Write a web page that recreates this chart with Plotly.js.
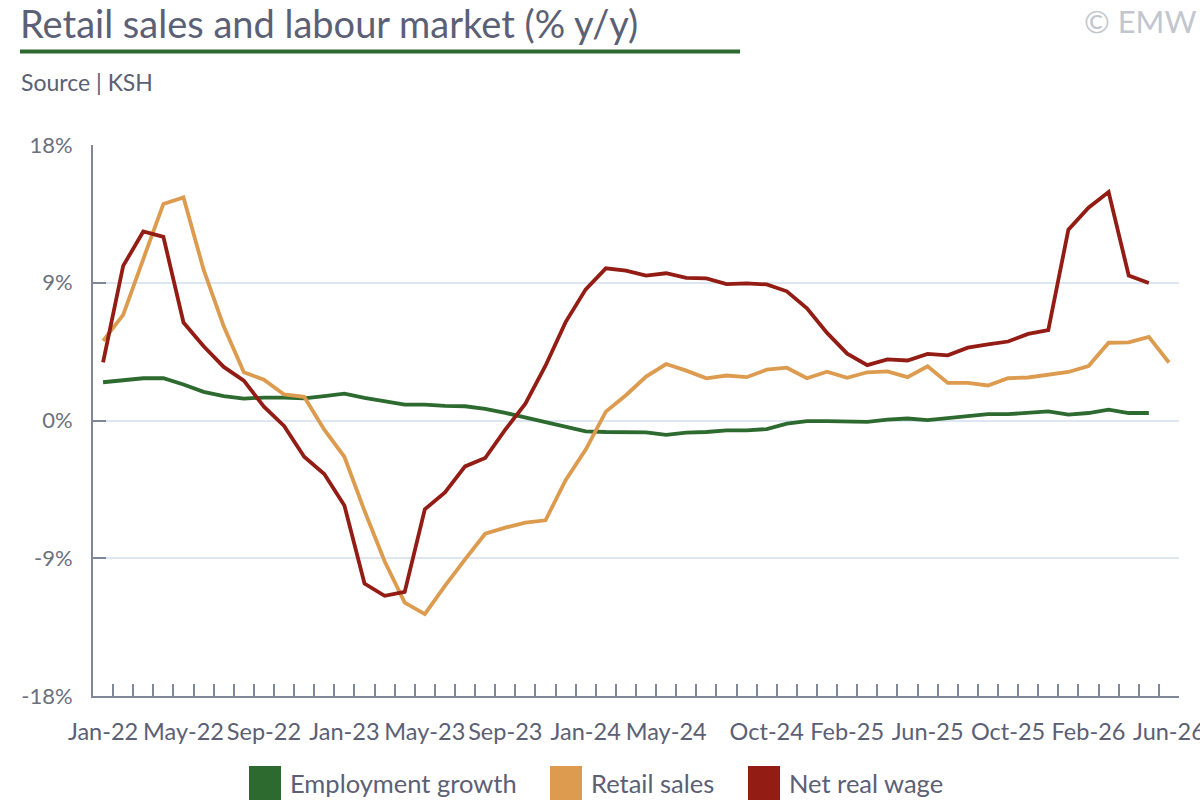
<!DOCTYPE html>
<html>
<head>
<meta charset="utf-8">
<script src="https://cdn.plot.ly/plotly-3.0.1.min.js"></script>
<style>
html,body{margin:0;padding:0;background:#fff;}
#chart{width:1200px;height:800px;}
</style>
</head>
<body>
<div id="chart"></div>
<script>
const months = ["Jan-22","Feb-22","Mar-22","Apr-22","May-22","Jun-22","Jul-22","Aug-22","Sep-22","Oct-22","Nov-22","Dec-22",
"Jan-23","Feb-23","Mar-23","Apr-23","May-23","Jun-23","Jul-23","Aug-23","Sep-23","Oct-23","Nov-23","Dec-23",
"Jan-24","Feb-24","Mar-24","Apr-24","May-24","Jun-24","Jul-24","Aug-24","Sep-24","Oct-24","Nov-24","Dec-24",
"Jan-25","Feb-25","Mar-25","Apr-25","May-25","Jun-25","Jul-25","Aug-25","Sep-25","Oct-25","Nov-25","Dec-25",
"Jan-26","Feb-26","Mar-26","Apr-26","May-26","Jun-26"];
const labelledMonths = ["Jan-22","May-22","Sep-22","Jan-23","May-23","Sep-23","Jan-24","May-24","Oct-24","Feb-25","Jun-25","Oct-25","Feb-26","Jun-26"];

const employmentGrowth = [2.5,2.6,2.76,2.76,2.35,1.87,1.59,1.43,1.5,1.5,1.45,1.59,1.76,1.48,1.26,1.04,1.04,0.95,0.93,0.76,0.5,0.2,-0.13,-0.39,
-0.71,-0.75,-0.79,-0.77,-0.94,-0.79,-0.75,-0.64,-0.64,-0.56,-0.21,-0.04,-0.04,-0.07,-0.09,0.06,0.13,0.02,0.13,0.24,0.41,0.41,0.51,0.6,0.39,0.49,0.71,0.49,0.49];
const retailSales = [5.2,6.9,10.55,14.15,14.57,9.85,6.15,3.15,2.67,1.7,1.55,-0.6,-2.37,-5.9,-9.2,-11.9,-12.65,-10.8,-9.07,-7.4,-7.0,-6.67,-6.52,-3.9,
-1.9,0.58,1.65,2.87,3.69,3.26,2.76,2.94,2.83,3.32,3.45,2.76,3.19,2.79,3.15,3.21,2.83,3.54,2.46,2.46,2.29,2.76,2.81,3.02,3.17,3.56,5.08,5.1,5.46,3.79];
const netRealWage = [3.8,10.1,12.35,12.0,6.4,4.85,3.5,2.6,0.9,-0.35,-2.37,-3.5,-5.55,-10.65,-11.45,-11.2,-5.8,-4.7,-3.0,-2.45,-0.6,1.1,3.58,6.43,
8.57,9.94,9.79,9.47,9.62,9.32,9.28,8.91,8.96,8.89,8.44,7.33,5.72,4.37,3.62,3.99,3.92,4.35,4.26,4.76,4.97,5.16,5.66,5.91,12.47,13.9,14.93,9.47,8.98];
const seriesNames = ["Employment growth","Retail sales","Net real wage"];
const seriesColors = ["#2d6a2f","#dc9b4e","#931c14"];
const yTicks = [-18,-9,0,9,18];

const W = 1200, H = 800;
const M = {l:93, r:21, t:145, b:104};
const PW = W - M.l - M.r, PH = H - M.t - M.b;
const px = x => (x - M.l) / PW;
const py = y => (H - M.b - y) / PH;

const FONT = "Lato, 'Open Sans', sans-serif";
const TXT = "#5b6075";

const allSeries = [employmentGrowth, retailSales, netRealWage];
const traces = allSeries.map((vals, k) => ({
  type: "scatter", mode: "lines",
  x: months.slice(0, vals.length), y: vals,
  name: seriesNames[k],
  line: {color: seriesColors[k], width: 3.8},
  showlegend: false, hoverinfo: "x+y"
}));

const tickText = months.map(m => labelledMonths.includes(m) ? m : "");

const shapes = [
  {type:"line", xref:"paper", yref:"paper", x0:px(20), x1:px(740), y0:py(51.5), y1:py(51.5),
   line:{color:"#2d6a2f", width:4}}
];
const annotations = [
  {xref:"paper", yref:"paper", x:px(18), y:py(23), xanchor:"left", yanchor:"middle", showarrow:false,
   text:"Retail sales and labour market (% y/y)", font:{family:FONT, size:38, color:TXT}},
  {xref:"paper", yref:"paper", x:px(19), y:py(82), xanchor:"left", yanchor:"middle", showarrow:false,
   text:"Source | KSH", font:{family:FONT, size:23, color:TXT}},
  {xref:"paper", yref:"paper", x:px(1199), y:py(21), xanchor:"right", yanchor:"middle", showarrow:false,
   text:"© EMW", font:{family:FONT, size:31, color:"#c3c6ce"}}
];
const legendX = [249, 550, 748];
seriesNames.forEach((n, k) => {
  shapes.push({type:"rect", xref:"paper", yref:"paper", x0:px(legendX[k]), x1:px(legendX[k]+32),
    y0:py(766), y1:py(800), fillcolor:seriesColors[k], line:{width:0}});
  annotations.push({xref:"paper", yref:"paper", x:px(legendX[k]+39), y:py(783), xanchor:"left", yanchor:"middle",
    showarrow:false, text:n, font:{family:FONT, size:25.5, color:TXT}});
});

const layout = {
  width: W, height: H,
  margin: M,
  paper_bgcolor: "#fff", plot_bgcolor: "#fff",
  showlegend: false,
  font: {family: FONT, color: "#6b7080"},
  xaxis: {
    type: "category", range: [-0.5, 53.5],
    tickmode: "array", tickvals: months, ticktext: tickText,
    tickson: "boundaries", tickangle: 0,
    ticks: "inside", ticklen: 12, tickwidth: 2, tickcolor: "#7f8799",
    showline: true, linecolor: "#7f8799", linewidth: 2,
    showgrid: false, zeroline: false,
    tickfont: {family: FONT, size: 23.5, color: TXT},
    ticklabelstandoff: 14
  },
  yaxis: {
    range: [-18, 18],
    tickmode: "array", tickvals: yTicks, ticktext: yTicks.map(v => v + "%"),
    ticks: "inside", ticklen: 13, tickwidth: 2, tickcolor: "#7f8799",
    showline: true, linecolor: "#7f8799", linewidth: 2,
    showgrid: true, gridcolor: "#dde6f1", gridwidth: 2,
    zeroline: false,
    tickfont: {family: FONT, size: 22, color: "#6b7080"},
    ticklabelstandoff: 14
  },
  shapes: shapes,
  annotations: annotations
};

Plotly.newPlot("chart", traces, layout, {displayModeBar: false, staticPlot: true});
</script>
</body>
</html>
